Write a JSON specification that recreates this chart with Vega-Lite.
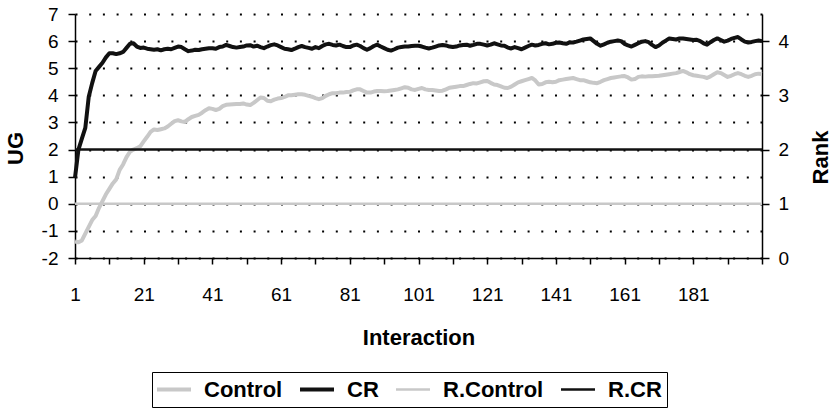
{
  "$schema": "https://vega.github.io/schema/vega-lite/v6.json",
  "width": 687,
  "height": 244,
  "autosize": "none",
  "padding": {"left": 75, "top": 14, "right": 69, "bottom": 151},
  "background": "white",
  "config": {
    "view": {"stroke": null},
    "font": "Liberation Sans",
    "axis": {"labelColor": "#000", "titleColor": "#000", "domainColor": "#000", "tickColor": "#000", "labelFont": "Liberation Sans", "titleFont": "Liberation Sans"},
    "legend": {"labelFont": "Liberation Sans"}
  },
  "datasets": {
    "ug": [
      {"i":1,"Control":-1.39,"CR":0.96},{"i":2,"Control":-1.42,"CR":2.0},{"i":3,"Control":-1.35,"CR":2.4},{"i":4,"Control":-1.1,"CR":2.8},{"i":5,"Control":-0.85,"CR":3.95},
      {"i":6,"Control":-0.6,"CR":4.45},{"i":7,"Control":-0.45,"CR":4.9},{"i":8,"Control":-0.15,"CR":5.05},{"i":9,"Control":0.1,"CR":5.2},{"i":10,"Control":0.35,"CR":5.4},
      {"i":11,"Control":0.55,"CR":5.55},{"i":12,"Control":0.75,"CR":5.55},{"i":13,"Control":0.9,"CR":5.52},{"i":14,"Control":1.25,"CR":5.55},{"i":15,"Control":1.45,"CR":5.6},
      {"i":16,"Control":1.72,"CR":5.75},{"i":17,"Control":1.92,"CR":5.9},{"i":18,"Control":2.0,"CR":5.92},{"i":19,"Control":2.05,"CR":5.8},{"i":20,"Control":2.12,"CR":5.75},
      {"i":21,"Control":2.3,"CR":5.76},{"i":22,"Control":2.47,"CR":5.72},{"i":23,"Control":2.65,"CR":5.7},{"i":24,"Control":2.74,"CR":5.68},{"i":25,"Control":2.72,"CR":5.7},
      {"i":26,"Control":2.75,"CR":5.66},{"i":27,"Control":2.78,"CR":5.7},{"i":28,"Control":2.85,"CR":5.72},{"i":29,"Control":2.95,"CR":5.7},{"i":30,"Control":3.05,"CR":5.75},
      {"i":31,"Control":3.08,"CR":5.8},{"i":32,"Control":3.04,"CR":5.78},{"i":33,"Control":3.02,"CR":5.7},{"i":34,"Control":3.12,"CR":5.63},{"i":35,"Control":3.2,"CR":5.65},
      {"i":36,"Control":3.24,"CR":5.68},{"i":37,"Control":3.28,"CR":5.67},{"i":38,"Control":3.36,"CR":5.7},{"i":39,"Control":3.45,"CR":5.72},{"i":40,"Control":3.52,"CR":5.74},
      {"i":41,"Control":3.5,"CR":5.74},{"i":42,"Control":3.46,"CR":5.72},{"i":43,"Control":3.5,"CR":5.78},{"i":44,"Control":3.6,"CR":5.8},{"i":45,"Control":3.65,"CR":5.86},
      {"i":46,"Control":3.66,"CR":5.82},{"i":47,"Control":3.67,"CR":5.78},{"i":48,"Control":3.68,"CR":5.76},{"i":49,"Control":3.68,"CR":5.78},{"i":50,"Control":3.7,"CR":5.8},
      {"i":51,"Control":3.66,"CR":5.84},{"i":52,"Control":3.64,"CR":5.85},{"i":53,"Control":3.72,"CR":5.8},{"i":54,"Control":3.82,"CR":5.83},{"i":55,"Control":3.92,"CR":5.78},
      {"i":56,"Control":3.9,"CR":5.74},{"i":57,"Control":3.8,"CR":5.8},{"i":58,"Control":3.78,"CR":5.85},{"i":59,"Control":3.84,"CR":5.88},{"i":60,"Control":3.88,"CR":5.84},
      {"i":61,"Control":3.9,"CR":5.78},{"i":62,"Control":3.94,"CR":5.72},{"i":63,"Control":4.0,"CR":5.7},{"i":64,"Control":4.0,"CR":5.67},{"i":65,"Control":4.02,"CR":5.72},
      {"i":66,"Control":4.04,"CR":5.78},{"i":67,"Control":4.04,"CR":5.82},{"i":68,"Control":4.02,"CR":5.78},{"i":69,"Control":3.98,"CR":5.75},{"i":70,"Control":3.95,"CR":5.72},
      {"i":71,"Control":3.9,"CR":5.78},{"i":72,"Control":3.86,"CR":5.74},{"i":73,"Control":3.9,"CR":5.82},{"i":74,"Control":3.98,"CR":5.88},{"i":75,"Control":4.04,"CR":5.9},
      {"i":76,"Control":4.08,"CR":5.86},{"i":77,"Control":4.08,"CR":5.84},{"i":78,"Control":4.1,"CR":5.87},{"i":79,"Control":4.1,"CR":5.82},{"i":80,"Control":4.12,"CR":5.78},
      {"i":81,"Control":4.13,"CR":5.78},{"i":82,"Control":4.18,"CR":5.84},{"i":83,"Control":4.22,"CR":5.87},{"i":84,"Control":4.22,"CR":5.82},{"i":85,"Control":4.16,"CR":5.74},
      {"i":86,"Control":4.1,"CR":5.68},{"i":87,"Control":4.1,"CR":5.74},{"i":88,"Control":4.14,"CR":5.82},{"i":89,"Control":4.16,"CR":5.87},{"i":90,"Control":4.16,"CR":5.8},
      {"i":91,"Control":4.15,"CR":5.74},{"i":92,"Control":4.16,"CR":5.68},{"i":93,"Control":4.18,"CR":5.65},{"i":94,"Control":4.2,"CR":5.7},{"i":95,"Control":4.22,"CR":5.76},
      {"i":96,"Control":4.26,"CR":5.78},{"i":97,"Control":4.3,"CR":5.8},{"i":98,"Control":4.28,"CR":5.8},{"i":99,"Control":4.22,"CR":5.82},{"i":100,"Control":4.2,"CR":5.83},
      {"i":101,"Control":4.24,"CR":5.83},{"i":102,"Control":4.27,"CR":5.8},{"i":103,"Control":4.22,"CR":5.76},{"i":104,"Control":4.2,"CR":5.73},{"i":105,"Control":4.2,"CR":5.76},
      {"i":106,"Control":4.18,"CR":5.8},{"i":107,"Control":4.16,"CR":5.84},{"i":108,"Control":4.17,"CR":5.86},{"i":109,"Control":4.22,"CR":5.84},{"i":110,"Control":4.28,"CR":5.8},
      {"i":111,"Control":4.3,"CR":5.78},{"i":112,"Control":4.32,"CR":5.8},{"i":113,"Control":4.34,"CR":5.84},{"i":114,"Control":4.34,"CR":5.86},{"i":115,"Control":4.38,"CR":5.87},
      {"i":116,"Control":4.42,"CR":5.83},{"i":117,"Control":4.45,"CR":5.86},{"i":118,"Control":4.44,"CR":5.9},{"i":119,"Control":4.48,"CR":5.9},{"i":120,"Control":4.52,"CR":5.87},
      {"i":121,"Control":4.53,"CR":5.84},{"i":122,"Control":4.46,"CR":5.87},{"i":123,"Control":4.4,"CR":5.92},{"i":124,"Control":4.38,"CR":5.88},{"i":125,"Control":4.33,"CR":5.84},
      {"i":126,"Control":4.28,"CR":5.83},{"i":127,"Control":4.27,"CR":5.76},{"i":128,"Control":4.32,"CR":5.73},{"i":129,"Control":4.4,"CR":5.78},{"i":130,"Control":4.48,"CR":5.74},
      {"i":131,"Control":4.52,"CR":5.7},{"i":132,"Control":4.56,"CR":5.76},{"i":133,"Control":4.6,"CR":5.82},{"i":134,"Control":4.64,"CR":5.87},{"i":135,"Control":4.55,"CR":5.84},
      {"i":136,"Control":4.4,"CR":5.86},{"i":137,"Control":4.42,"CR":5.9},{"i":138,"Control":4.48,"CR":5.92},{"i":139,"Control":4.5,"CR":5.88},{"i":140,"Control":4.48,"CR":5.9},
      {"i":141,"Control":4.5,"CR":5.94},{"i":142,"Control":4.56,"CR":5.95},{"i":143,"Control":4.58,"CR":5.92},{"i":144,"Control":4.6,"CR":5.9},{"i":145,"Control":4.62,"CR":5.95},
      {"i":146,"Control":4.64,"CR":5.95},{"i":147,"Control":4.6,"CR":5.98},{"i":148,"Control":4.56,"CR":6.02},{"i":149,"Control":4.56,"CR":6.06},{"i":150,"Control":4.52,"CR":6.08},
      {"i":151,"Control":4.48,"CR":6.1},{"i":152,"Control":4.46,"CR":6.0},{"i":153,"Control":4.45,"CR":5.9},{"i":154,"Control":4.5,"CR":5.83},{"i":155,"Control":4.56,"CR":5.88},
      {"i":156,"Control":4.6,"CR":5.94},{"i":157,"Control":4.64,"CR":5.98},{"i":158,"Control":4.66,"CR":6.0},{"i":159,"Control":4.68,"CR":6.02},{"i":160,"Control":4.7,"CR":6.0},
      {"i":161,"Control":4.71,"CR":5.9},{"i":162,"Control":4.66,"CR":5.84},{"i":163,"Control":4.58,"CR":5.8},{"i":164,"Control":4.6,"CR":5.86},{"i":165,"Control":4.68,"CR":5.92},
      {"i":166,"Control":4.7,"CR":5.98},{"i":167,"Control":4.69,"CR":6.0},{"i":168,"Control":4.7,"CR":5.96},{"i":169,"Control":4.7,"CR":5.86},{"i":170,"Control":4.71,"CR":5.78},
      {"i":171,"Control":4.72,"CR":5.84},{"i":172,"Control":4.74,"CR":5.94},{"i":173,"Control":4.76,"CR":6.02},{"i":174,"Control":4.78,"CR":6.1},{"i":175,"Control":4.8,"CR":6.08},
      {"i":176,"Control":4.82,"CR":6.06},{"i":177,"Control":4.86,"CR":6.1},{"i":178,"Control":4.9,"CR":6.1},{"i":179,"Control":4.85,"CR":6.08},{"i":180,"Control":4.78,"CR":6.06},
      {"i":181,"Control":4.74,"CR":6.04},{"i":182,"Control":4.72,"CR":6.05},{"i":183,"Control":4.7,"CR":6.0},{"i":184,"Control":4.68,"CR":5.92},{"i":185,"Control":4.64,"CR":5.87},
      {"i":186,"Control":4.7,"CR":5.96},{"i":187,"Control":4.78,"CR":6.04},{"i":188,"Control":4.85,"CR":6.1},{"i":189,"Control":4.82,"CR":6.04},{"i":190,"Control":4.75,"CR":5.98},
      {"i":191,"Control":4.68,"CR":6.02},{"i":192,"Control":4.72,"CR":6.08},{"i":193,"Control":4.78,"CR":6.12},{"i":194,"Control":4.82,"CR":6.15},{"i":195,"Control":4.78,"CR":6.06},
      {"i":196,"Control":4.72,"CR":5.98},{"i":197,"Control":4.68,"CR":5.95},{"i":198,"Control":4.72,"CR":5.97},{"i":199,"Control":4.78,"CR":6.0},{"i":200,"Control":4.8,"CR":6.02},
      {"i":201,"Control":4.79,"CR":6.0}
    ],
    "rank": [
      {"i":1,"series":"R.Control","Rank":1},{"i":201,"series":"R.Control","Rank":1},
      {"i":1,"series":"R.CR","Rank":2},{"i":201,"series":"R.CR","Rank":2}
    ]
  },
  "encoding": {
    "x": {
      "field": "i", "type": "quantitative",
      "scale": {"domain": [1, 201], "nice": false, "zero": false},
      "axis": {
        "values": [1,11,21,31,41,51,61,71,81,91,101,111,121,131,141,151,161,171,181,191,201],
        "labelExpr": "(datum.value - 1) % 20 == 0 && datum.value < 201 ? datum.label : ''",
        "format": "d",
        "grid": false,
        "domainWidth": 1.5, "tickWidth": 1.5, "tickSize": 6,
        "labelFontSize": 19, "labelPadding": 21, "labelFlush": false, "labelOverlap": false,
        "title": "Interaction", "titleFontSize": 22, "titleFontWeight": "bold",
        "titleY": 69, "titleBaseline": "top"
      }
    }
  },
  "layer": [
    {
      "data": {"name": "ug"},
      "transform": [{"fold": ["Control", "CR"], "as": ["series", "UG"]}],
      "mark": {"type": "line", "strokeWidth": 4, "strokeJoin": "round"},
      "encoding": {
        "y": {
          "field": "UG", "type": "quantitative",
          "scale": {"domain": [-2, 7], "nice": false, "zero": false},
          "axis": {
            "orient": "left",
            "values": [-2,-1,0,1,2,3,4,5,6,7],
            "labelExpr": "replace(datum.label, '\u2212', '-')",
            "grid": true, "gridDash": [2, 11.7], "gridColor": "#000", "gridWidth": 2, "gridOpacity": 1,
            "domainWidth": 1.5, "tickWidth": 1.5, "tickSize": 7,
            "labelFontSize": 19, "labelPadding": 10,
            "title": "UG", "titleFontSize": 22, "titleFontWeight": "bold",
            "titleAngle": 270, "titleX": -60, "titleY": 134, "titleBaseline": "middle", "titleAlign": "center"
          }
        },
        "color": {
          "field": "series", "type": "nominal",
          "scale": {"domain": ["Control", "CR", "R.Control", "R.CR"], "range": ["#c8c8c8", "#111111", "#c8c8c8", "#111111"]},
          "legend": {
            "title": null, "orient": "none", "legendX": 77, "legendY": 358,
            "direction": "horizontal", "columns": 4,
            "strokeColor": "#000", "padding": 5,
            "symbolType": "stroke", "symbolSize": 2116, "symbolStrokeWidth": 4,
            "labelFontSize": 22, "labelFontWeight": "bold", "labelColor": "#000",
            "labelOffset": 25, "columnPadding": 17, "clipHeight": 25, "labelLimit": 300,
            "encode": {"symbols": {"update": {"strokeWidth": {"signal": "datum.value == 'Control' || datum.value == 'CR' ? 4 : 2.5"}}}}
          }
        }
      }
    },
    {
      "data": {"name": "rank"},
      "mark": {"type": "line", "strokeWidth": 2.5},
      "encoding": {
        "y": {
          "field": "Rank", "type": "quantitative",
          "scale": {"domain": [0, 4.5], "nice": false, "zero": false},
          "axis": {
            "orient": "right",
            "values": [0,1,2,3,4],
            "grid": false,
            "domainWidth": 1.5, "tickWidth": 1.5, "tickSize": 7,
            "labelFontSize": 19, "labelPadding": 9,
            "title": "Rank", "titleFontSize": 22, "titleFontWeight": "bold",
            "titleAngle": 270, "titleX": 58, "titleY": 143, "titleBaseline": "middle", "titleAlign": "center"
          }
        },
        "color": {"field": "series", "type": "nominal"}
      }
    }
  ],
  "resolve": {"scale": {"y": "independent"}}
}
